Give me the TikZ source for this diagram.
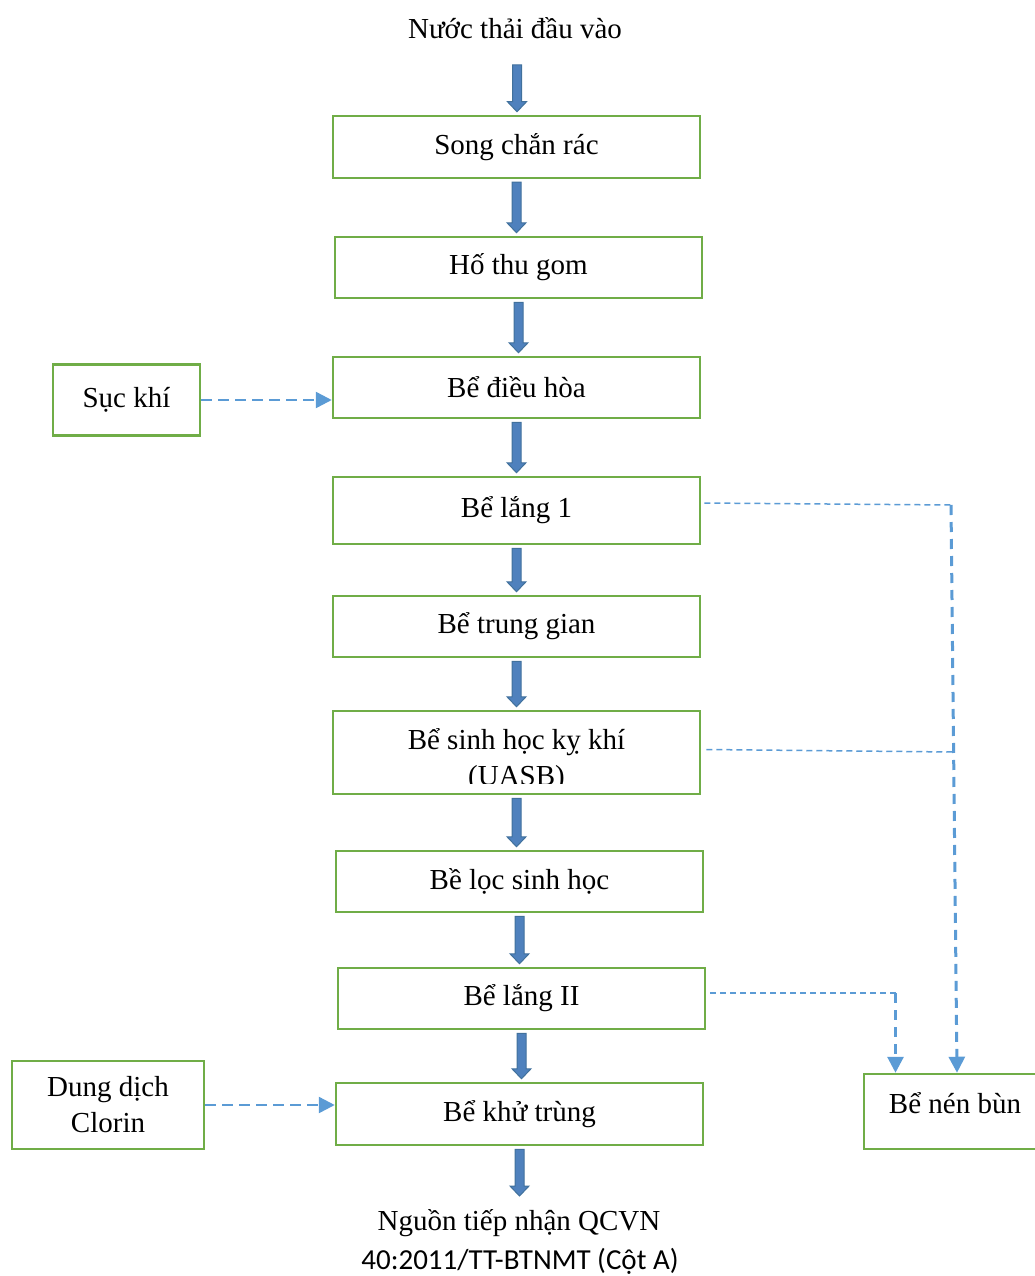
\documentclass[tikz,border=0pt]{standalone}
\usepackage{fontspec}
\setmainfont{Liberation Serif}
\newfontfamily\carlito{Carlito}
\usetikzlibrary{arrows.meta,calc}
\definecolor{boxgreen}{HTML}{70AD47}
\definecolor{dashblue}{HTML}{5B9BD5}
\definecolor{arrowfill}{HTML}{4F81BD}
\definecolor{arrowedge}{HTML}{41719C}
\newcommand\bodyfont{\fontsize{29}{36}\selectfont}
% broad blue process arrow from one point to another (small gaps at both ends)
\newcommand\flowarrow[2]{%
  \draw[blockarrow] let \p1=(#1), \p2=(#2) in
    (\x1-4.5pt,\y1-3pt) -- (\x1+4.5pt,\y1-3pt) -- (\x1+4.5pt,\y2+13pt)
    -- (\x1+9.5pt,\y2+13pt) -- (\x1,\y2+3pt) -- (\x1-9.5pt,\y2+13pt)
    -- (\x1-4.5pt,\y2+13pt) -- cycle;}
\tikzset{
  box/.style={draw=boxgreen, line width=2.5pt, minimum width=367pt,
    minimum height=62pt, inner sep=0pt, font=\bodyfont, align=center},
  blockarrow/.style={fill=arrowfill, draw=arrowedge, line width=1pt, line join=miter},
  thindash/.style={draw=dashblue, line width=1.5pt, dash pattern=on 6pt off 4pt},
  thickdash/.style={draw=dashblue, line width=3pt, dash pattern=on 10pt off 7pt},
  feed/.style={draw=dashblue, line width=2.5pt, dash pattern=on 11pt off 6pt},
  tip/.style={-{Triangle[length=16pt,width=16pt]}},
  label text/.style={font=\bodyfont, inner sep=0pt, align=center}
}
\begin{document}
\begin{tikzpicture}[x=1pt, y=-1pt]
\useasboundingbox (0,0) rectangle (1035,1276);

% main treatment line
\node[label text] (in) at (515,28) {Nước thải đầu vào};
\node[box] (b1) at (516.5,147) {Song chắn rác};
\node[box, minimum height=61pt] (b2) at (518.5,267.5) {Hố thu gom};
\node[box, minimum height=61pt] (b3) at (516.5,387.5) {Bể điều hòa};
\node[box, minimum height=67pt] (b4) at (516.5,510.5) {Bể lắng 1};
\node[box, minimum height=61pt] (b5) at (516.5,626.5) {Bể trung gian};
\node[box, minimum height=83pt] (b6) at (516.5,752.5) {};
\begin{scope}
  \clip (333,700) rectangle (700,783);
  \node[label text] (b6t) at (516.5,760) {Bể sinh học kỵ khí\\(UASB)};
\end{scope}
\node[box, minimum height=61pt] (b7) at (519.5,881.5) {Bề lọc sinh học};
\node[box, minimum height=61pt] (b8) at (521.5,998.5) {Bể lắng II};
\node[box] (b9) at (519.5,1114) {Bể khử trùng};
\node[label text] (out1) at (519,1223) {Nguồn tiếp nhận QCVN};
\node[label text, font=\carlito\bodyfont] (out2) at (520,1261) {40:2011/TT-BTNMT (Cột A)};

% side inputs and sludge tank
\node[box, minimum width=147pt, minimum height=71pt] (sk) at (126.5,400) {Sục khí};
\node[box, minimum width=192pt, minimum height=88pt] (dd) at (108,1105) {Dung dịch\\Clorin};
\node[box, minimum width=172pt, minimum height=75pt] (bn) at (950,1111.5) {};
\node[label text] (bnt) at (955,1103) {Bể nén bùn};

% process arrows
\coordinate (inA) at (517,62);
\coordinate (outA) at (519,1199);
\flowarrow{inA}{b1.north}
\flowarrow{b1.south}{b2.north}
\flowarrow{b2.south}{b3.north}
\flowarrow{b3.south}{b4.north}
\flowarrow{b4.south}{b5.north}
\flowarrow{b5.south}{b6.north}
\flowarrow{b6.south}{b7.north}
\flowarrow{b7.south}{b8.north}
\flowarrow{b8.south}{b9.north}
\flowarrow{b9.south}{outA}

% dosing lines
\draw[feed, tip] (sk.east) -- (sk.east -| b3.west);
\draw[feed, tip] (dd.east) -- (dd.east -| b9.west);

% sludge lines
\coordinate (j1) at (951,505);
\coordinate (j2) at (953.5,752);
\coordinate (t1) at (957,0);
\coordinate (c3) at (895.5,993);
\draw[thindash] ([shift={(3,-7.5)}]b4.east) -- (j1);
\draw[thickdash, tip] (j1) -- (t1 |- bn.north);
\draw[thindash] ([shift={(5,-3)}]b6.east) -- (j2);
\draw[thindash] ([shift={(4,-5.5)}]b8.east) -- (c3);
\draw[thickdash, tip] (c3) -- (c3 |- bn.north);
\end{tikzpicture}
\end{document}
